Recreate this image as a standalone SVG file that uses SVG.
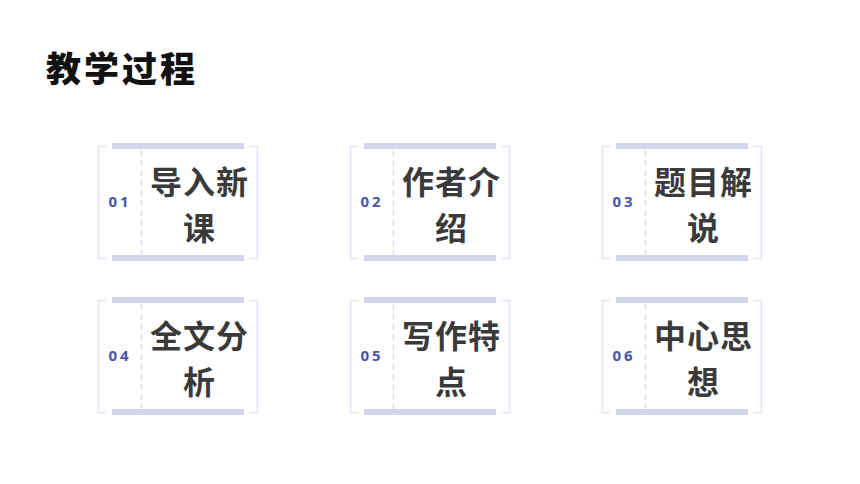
<svg xmlns="http://www.w3.org/2000/svg" width="860" height="484" viewBox="0 0 860 484">
<style>
.br{fill:none;stroke:#e3e3f1;stroke-width:1.5}
.bar{fill:#d4d6ea}
.dash{stroke:#dcdcec;stroke-width:1.5;stroke-dasharray:6 4}
.num{font-family:"Noto Sans","Liberation Sans",sans-serif;font-weight:bold;font-size:15px;fill:#4556ad;letter-spacing:3px;text-anchor:middle}
.lbl{font-family:"Noto Sans CJK SC",sans-serif;font-weight:bold;font-size:32px;fill:#3a3a3a;text-anchor:middle;letter-spacing:1px}
.title{font-family:"Noto Sans CJK SC",sans-serif;font-weight:900;font-size:35px;fill:#111111;letter-spacing:3px}
</style>
<defs>
<g id="frame">
<path class="br" d="M106.5 146.5H98.5V258.5H106.5"/>
<path class="br" d="M249 146.5H257.5V258.5H249"/>
<rect class="bar" x="112" y="143" width="132" height="6"/>
<rect class="bar" x="112" y="255" width="132" height="6"/>
<line class="dash" x1="141.5" y1="150" x2="141.5" y2="255"/>
</g>
</defs>
<rect width="860" height="484" fill="#ffffff"/>
<text id="title" class="title" x="46" y="82">教学过程</text>
<g id="node1">
<use href="#frame"/>
<text class="num" x="120" y="207">01</text>
<text class="lbl" x="199.5" y="194">导入新</text>
<text class="lbl" x="199.5" y="240">课</text>
</g>
<g id="node2" transform="translate(252,0)">
<use href="#frame"/>
<text class="num" x="120" y="207">02</text>
<text class="lbl" x="199.5" y="194">作者介</text>
<text class="lbl" x="199.5" y="240">绍</text>
</g>
<g id="node3" transform="translate(504,0)">
<use href="#frame"/>
<text class="num" x="120" y="207">03</text>
<text class="lbl" x="199.5" y="194">题目解</text>
<text class="lbl" x="199.5" y="240">说</text>
</g>
<g id="node4" transform="translate(0,154)">
<use href="#frame"/>
<text class="num" x="120" y="207">04</text>
<text class="lbl" x="199.5" y="194">全文分</text>
<text class="lbl" x="199.5" y="240">析</text>
</g>
<g id="node5" transform="translate(252,154)">
<use href="#frame"/>
<text class="num" x="120" y="207">05</text>
<text class="lbl" x="199.5" y="194">写作特</text>
<text class="lbl" x="199.5" y="240">点</text>
</g>
<g id="node6" transform="translate(504,154)">
<use href="#frame"/>
<text class="num" x="120" y="207">06</text>
<text class="lbl" x="199.5" y="194">中心思</text>
<text class="lbl" x="199.5" y="240">想</text>
</g>
<g id="connectors"/>
</svg>
